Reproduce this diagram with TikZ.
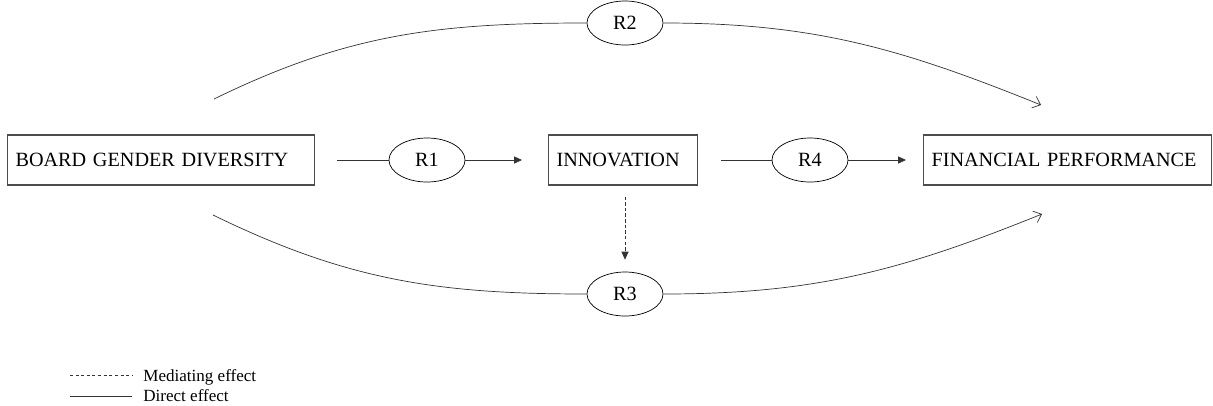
\documentclass[tikz,border=0pt]{standalone}
\usepackage{fontspec}
\setmainfont{Liberation Serif}
\usetikzlibrary{shapes.geometric,arrows.meta}

\tikzset{
  varbox/.style={draw=black!70, line width=0.6pt, minimum height=1cm, inner xsep=0.16cm, align=left, anchor=west, font=\fontsize{11.5}{13}\selectfont},
  hyp/.style={ellipse, draw, thin, minimum width=1.52cm, minimum height=0.88cm, inner sep=0pt, font=\fontsize{11.5}{13}\selectfont},
  link/.style={color=black!80, thin},
  fulltip/.style={-{Triangle[length=4.5pt,width=4pt]}},
  opentip/.style={-{Straight Barb[length=4pt,width=7pt]}},
  legtext/.style={anchor=base west, inner sep=0pt, font=\fontsize{9.7}{11}\selectfont}
}

\begin{document}
\begin{tikzpicture}
  \useasboundingbox (0,0) rectangle (24.26,8.1);
  \node[varbox, text width=5.82cm] (bgd) at (0.14, 4.9) {BOARD GENDER DIVERSITY};
  \node[varbox, text width=2.66cm] (inno) at (10.96, 4.9) {INNOVATION};
  \node[varbox, text width=5.44cm] (fp) at (18.46, 4.9) {FINANCIAL PERFORMANCE};
  \foreach \nm/\x/\y/\lab in {r1/8.54/4.9/R1, r2/12.5/7.64/R2, r3/12.5/2.22/R3, r4/16.2/4.9/R4}
  {
  \node[hyp] (\nm) at (\x, \y) {\lab};
  }

  % straight paths
  \draw[link, shorten <=0.44cm] (bgd.east) -- (r1.west);
  \draw[link, fulltip, shorten >=0.52cm] (r1.east) -- (inno.west);
  \draw[link, shorten <=0.46cm] (inno.east) -- (r4.west);
  \draw[link, fulltip, shorten >=0.34cm] (r4.east) -- (fp.west);
  \draw[link, fulltip, dash pattern=on 2pt off 1.2pt, shorten <=0.22cm, shorten >=0.24cm] (inno.south -| r3.north) -- (r3.north);

  % curved paths
  \coordinate (topstart) at (4.28, 6.12);
  \coordinate (topend) at (20.82, 6.0);
  \coordinate (botstart) at (4.26, 3.8);
  \coordinate (botend) at (20.84, 3.82);
  \draw[link] (topstart) to[out=26, in=180] (r2.west);
  \draw[link, opentip] (r2.east) to[out=0, in=158] (topend);
  \draw[link] (botstart) to[out=-26, in=180] (r3.west);
  \draw[link, opentip] (r3.east) to[out=0, in=-158] (botend);

  % legend
  \node[legtext] (medlab) at (2.86, 0.48) {Mediating effect};
  \node[legtext] (dirlab) at (2.86, 0.08) {Direct effect};
  \coordinate (medline) at (1.4, 0.6);
  \coordinate (dirline) at (1.4, 0.18);
  \draw[link, dash pattern=on 1.7pt off 1.5pt] (medline) -- ([xshift=-0.22cm]medline -| medlab.west);
  \draw[link] (dirline) -- ([xshift=-0.22cm]dirline -| dirlab.west);
\end{tikzpicture}
\end{document}
